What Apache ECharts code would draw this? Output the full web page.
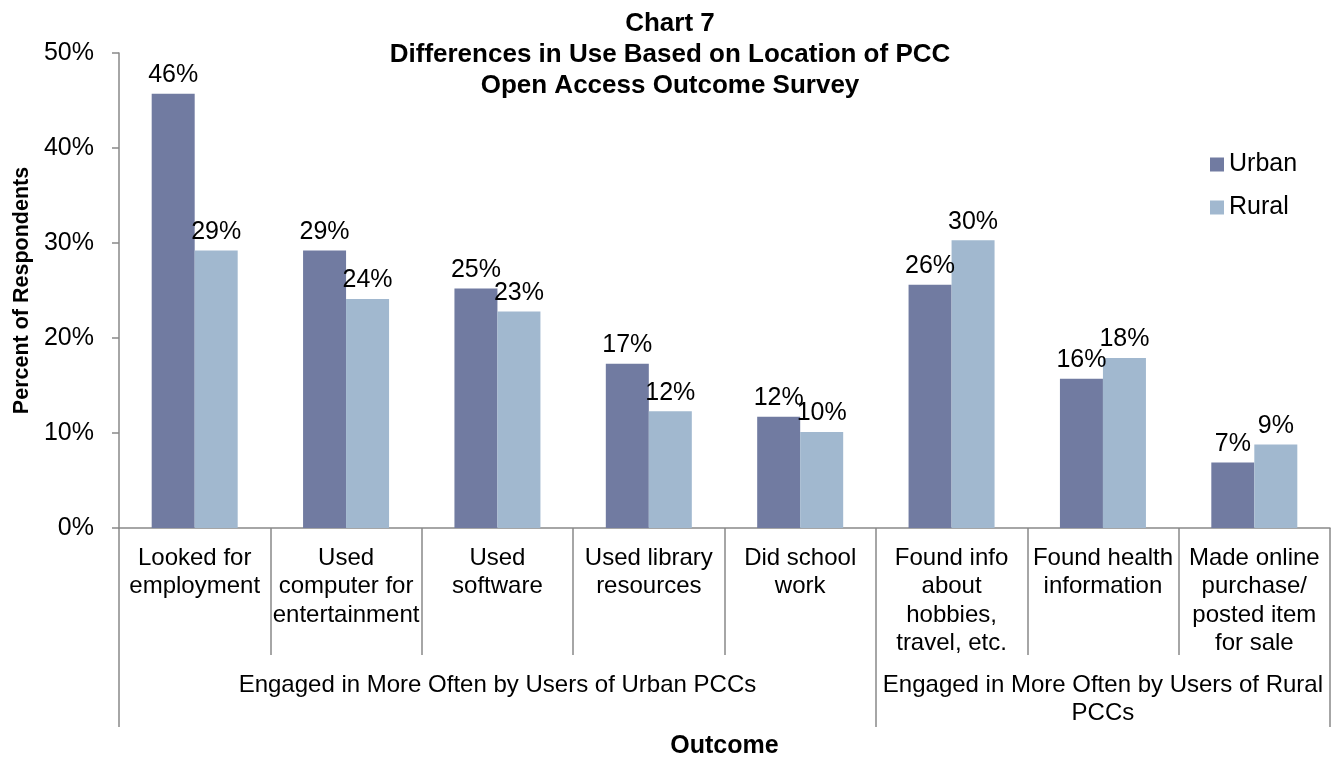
<!DOCTYPE html>
<html>
<head>
<meta charset="utf-8">
<script src="https://cdn.jsdelivr.net/npm/echarts@6/dist/echarts.min.js"></script>
<style>
	html, body { margin: 0; padding: 0; background: #fff; }
	#chart { width: 1332px; height: 760px; }
</style>
</head>
<body>
<div id="chart"></div>
<script>
var categories = [
	"Looked for\nemployment",
	"Used\ncomputer for\nentertainment",
	"Used\nsoftware",
	"Used library\nresources",
	"Did school\nwork",
	"Found info\nabout\nhobbies,\ntravel, etc.",
	"Found health\ninformation",
	"Made online\npurchase/\nposted item\nfor sale"
];
var groupNames = ["Engaged in More Often by Users of Urban PCCs", "Engaged in More Often by Users of Rural\nPCCs"];
var groupBounds = [0, 5, 8]; // 分组边界（按类别序号）
var groupCenters = [2.5, 6.5];
var urban = [45.7, 29.2, 25.2, 17.3, 11.7, 25.6, 15.7, 6.9];
var rural = [29.2, 24.1, 22.8, 12.3, 10.1, 30.3, 17.9, 8.8];
var yTicks = [0, 10, 20, 30, 40, 50];

window.onload = function() {
	var font = "Liberation Sans, Arial, sans-serif";
	var axisGray = "#898989";
	var chart = echarts.init(document.getElementById("chart"));
	var labelOpt = {
		show: true,
		position: "top",
		distance: 6,
		fontFamily: font,
		fontSize: 25,
		color: "#000",
		formatter: function(p) { return Math.round(p.value) + "%"; }
	};
	var option = {
		animation: false,
		textStyle: { fontFamily: font },
		title: {
			text: "Chart 7\nDifferences in Use Based on Location of PCC\nOpen Access Outcome Survey",
			left: 665,
			textAlign: "center",
			top: 3,
			textStyle: { fontFamily: font, fontSize: 26, fontWeight: "bold", color: "#000", lineHeight: 31 }
		},
		legend: {
			orient: "vertical",
			left: 1205,
			top: 147,
			icon: "rect",
			itemWidth: 14,
			itemHeight: 14,
			itemGap: 18,
			textStyle: { fontFamily: font, fontSize: 25, color: "#000" },
			data: ["Urban", "Rural"]
		},
		grid: { left: 119, right: 2, top: 53, bottom: 232, containLabel: false, outerBoundsMode: "none" },
		xAxis: [{
			type: "category",
			data: categories,
			axisLine: { lineStyle: { color: axisGray, width: 1.5 } },
			axisTick: { show: true, interval: 0, length: 127, lineStyle: { color: axisGray, width: 1.5 } },
			axisLabel: { interval: 0, margin: 16, fontFamily: font, fontSize: 24, lineHeight: 28.5, color: "#000", verticalAlign: "top" }
		}, {
			type: "value",
			min: 0,
			max: 8,
			position: "bottom",
			offset: 127,
			axisLine: { show: false },
			splitLine: { show: false },
			axisTick: { show: true, customValues: groupBounds, length: 72, inside: false, lineStyle: { color: axisGray, width: 1.5 } },
			axisLabel: {
				customValues: groupCenters,
				margin: 16,
				fontFamily: font,
				fontSize: 24,
				lineHeight: 28.5,
				color: "#000",
				verticalAlign: "top",
				formatter: function(v) { return v < 5 ? groupNames[0] : groupNames[1]; }
			},
			name: "Outcome",
			nameLocation: "middle",
			nameGap: 79,
			nameTextStyle: { fontFamily: font, fontSize: 25, fontWeight: "bold", color: "#000" }
		}],
		yAxis: {
			type: "value",
			min: yTicks[0],
			max: yTicks[yTicks.length - 1],
			interval: 10,
			axisLine: { show: true, lineStyle: { color: axisGray, width: 1.5 } },
			axisTick: { show: true, length: 7, lineStyle: { color: axisGray, width: 1.5 } },
			splitLine: { show: false },
			axisLabel: { margin: 25, fontFamily: font, fontSize: 25, color: "#000", formatter: "{value}%" },
			name: "Percent of Respondents",
			nameLocation: "middle",
			nameGap: 80,
			nameTextStyle: { fontFamily: font, fontSize: 21.5, fontWeight: "bold", color: "#000" }
		},
		series: [{
			name: "Urban",
			type: "bar",
			data: urban,
			barWidth: 43,
			barGap: "0%",
			itemStyle: { color: "#717BA1" },
			label: labelOpt
		}, {
			name: "Rural",
			type: "bar",
			data: rural,
			barWidth: 43,
			barGap: "0%",
			itemStyle: { color: "#A1B8CF" },
			label: labelOpt
		}]
	};
	chart.setOption(option);
};
</script>
</body>
</html>
